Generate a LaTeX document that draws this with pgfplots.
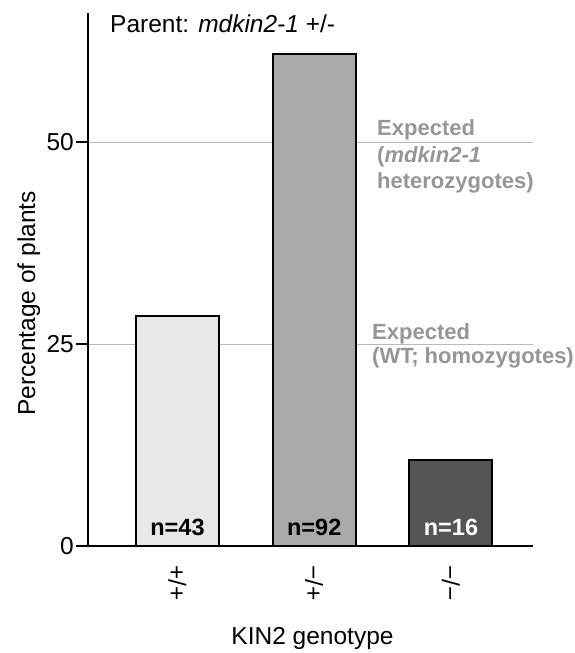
\documentclass[border=0pt]{standalone}
\usepackage{fontspec}
\setmainfont{Liberation Sans}
\usepackage{pgfplots}
\pgfplotsset{compat=1.18}
\definecolor{barA}{RGB}{232,232,230}
\definecolor{barB}{RGB}{170,170,170}
\definecolor{barC}{RGB}{85,85,85}
\definecolor{expgray}{RGB}{150,150,150}
\definecolor{gridgray}{RGB}{185,185,185}
\newcommand{\fs}{\fontsize{24.5}{28}\selectfont}
\newcommand{\es}{\fontsize{22}{26}\selectfont\bfseries}
\begin{document}
\begin{tikzpicture}[x=1pt,y=1pt]
\path[use as bounding box] (-88,-107) rectangle (486,546);
\begin{axis}[at={(0,0)}, anchor=south west, scale only axis,
  width=445pt, height=533pt,
  xmin=-0.6545, xmax=2.6, ymin=0, ymax=66,
  axis x line=bottom, axis y line=left,
  axis line style={-, line width=2.4pt, black},
  xtick={0,1,2}, xticklabels={+/+, −/+, −/−},
  x tick style={draw=none},
  xticklabel style={rotate=-90, anchor=west, font=\fs, xshift=4pt},
  ytick={0,25,50},
  y tick style={line width=2.2pt, black},
  tick align=outside, major tick length=12pt,
  yticklabel style={font=\fs, inner sep=2pt},
  /pgf/number format/assume math mode=true,
  ymajorgrids, grid style={gridgray, line width=0.9pt},
  ylabel={Percentage of plants},
  ylabel style={font=\fs, at={(axis description cs:-0.119,0.455)}, anchor=base},
  xlabel={KIN2 genotype},
  xlabel style={font=\fs, at={(axis description cs:0.5,0)}, anchor=base, xshift=2pt, yshift=-98pt},
  clip=false,
]
\addplot[ybar, bar shift=0pt, bar width=83pt, fill=barA, draw=black, line width=2pt] coordinates {(0,28.5)};
\addplot[ybar, bar shift=0pt, bar width=83pt, fill=barB, draw=black, line width=2pt] coordinates {(1,60.9)};
\addplot[ybar, bar shift=0pt, bar width=83pt, fill=barC, draw=black, line width=2pt] coordinates {(2,10.6)};
\node[anchor=base, font=\fontsize{23.5}{27}\selectfont\bfseries, yshift=11pt] at (axis cs:0,0) {n=43};
\node[anchor=base, font=\fontsize{23.5}{27}\selectfont\bfseries, yshift=11pt] at (axis cs:1,0) {n=92};
\node[anchor=base, font=\fontsize{23.5}{27}\selectfont\bfseries, text=white, yshift=11pt] at (axis cs:2,0) {n=16};
\node[anchor=base west, font=\es, text=expgray, yshift=7pt, inner sep=0pt] at (axis cs:1.459,50) {Expected};
\node[anchor=base west, font=\es, text=expgray, yshift=-20.5pt, inner sep=0pt] at (axis cs:1.459,50) {(\textit{mdkin2-1}};
\node[anchor=base west, font=\es, text=expgray, yshift=-46pt, inner sep=0pt] at (axis cs:1.459,50) {heterozygotes)};
\node[anchor=base west, font=\es, text=expgray, xshift=-5pt, yshift=4.5pt, inner sep=0pt] at (axis cs:1.459,25) {Expected};
\node[anchor=base west, font=\es, text=expgray, xshift=-5pt, yshift=-19pt, inner sep=0pt] at (axis cs:1.459,25) {(WT; homozygotes)};
\node[anchor=base west, font=\fs, inner sep=0pt, xshift=22pt, yshift=-20pt] at (rel axis cs:0,1) {Parent: \textit{mdkin2-1} +/-};
\end{axis}
\end{tikzpicture}
\end{document}
